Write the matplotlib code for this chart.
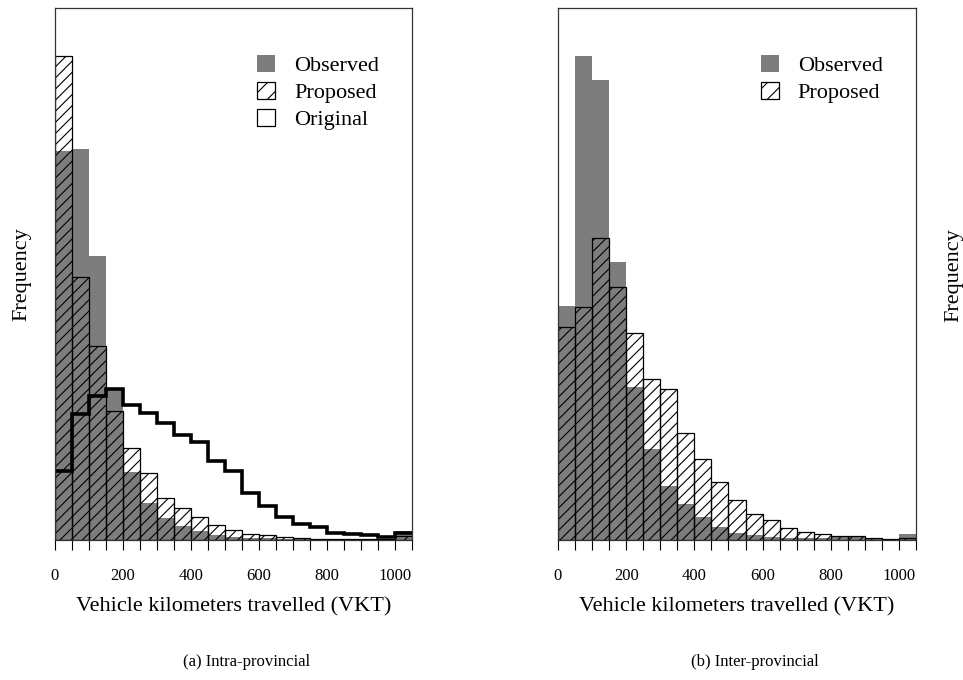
import numpy as np
import matplotlib
matplotlib.use("Agg")
import matplotlib.pyplot as plt
from matplotlib.patches import Patch

plt.rcParams['font.family'] = ['Liberation Serif', 'DejaVu Serif']
plt.rcParams['hatch.linewidth'] = 0.8

# bins of 50 km, 0 .. 1050
edges = np.arange(0, 1051, 50)

# (a) intra-provincial (relative frequency, axis top = 1)
observed_a = [0.731, 0.734, 0.533, 0.283, 0.127, 0.070, 0.042, 0.026, 0.016, 0.010,
              0.006, 0.004, 0.003, 0.002, 0.001, 0.001, 0.001, 0.001, 0.0005, 0.0005, 0.016]
proposed_a = [0.909, 0.495, 0.364, 0.242, 0.173, 0.125, 0.078, 0.061, 0.043, 0.028,
              0.018, 0.011, 0.009, 0.005, 0.003, 0.002, 0.002, 0.001, 0.001, 0.001, 0.008]
original_a = [0.130, 0.237, 0.270, 0.284, 0.253, 0.239, 0.220, 0.198, 0.184, 0.149,
              0.130, 0.089, 0.064, 0.043, 0.030, 0.025, 0.014, 0.011, 0.009, 0.006, 0.013]

# (b) inter-provincial
observed_b = [0.440, 0.909, 0.865, 0.522, 0.288, 0.171, 0.102, 0.067, 0.043, 0.024,
              0.014, 0.010, 0.006, 0.004, 0.003, 0.003, 0.006, 0.005, 0.004, 0.002, 0.012]
proposed_b = [0.401, 0.438, 0.567, 0.476, 0.389, 0.303, 0.283, 0.202, 0.152, 0.109,
              0.075, 0.048, 0.037, 0.023, 0.015, 0.011, 0.007, 0.0075, 0.004, 0.002, 0.004]

tick_labels = ['0', '200', '400', '600', '800', '1000']
GREY = '#7d7d7d'


def draw_panel(ax, observed, proposed, original=None):
    ax.bar(edges[:-1], observed, width=50, align='edge', color=GREY, linewidth=0)
    ax.bar(edges[:-1], proposed, width=50, align='edge', fill=False,
           hatch='///', edgecolor='black', linewidth=0.9)
    handles = [Patch(facecolor=GREY, edgecolor='none', label='Observed'),
               Patch(facecolor='white', edgecolor='black', hatch='//', linewidth=0.9, label='Proposed')]
    if original is not None:
        ax.stairs(original, edges, color='black', linewidth=2.6, baseline=None)
        handles.append(Patch(facecolor='white', edgecolor='black', linewidth=0.9, label='Original'))
    ax.set_xlim(0, 1050)
    ax.set_ylim(0, 1)
    ax.set_yticks([])
    ax.set_xticks(edges)
    ax.set_xticklabels([str(e) if e % 200 == 0 else '' for e in edges])
    ax.tick_params(axis='x', direction='out', length=7, width=0.8, pad=13, labelsize=12)
    ax.set_xlabel('Vehicle kilometers travelled (VKT)', fontsize=16, labelpad=10)
    for s in ax.spines.values():
        s.set_linewidth(0.9)
        s.set_color('#333333')
    ax.legend(handles=handles, loc='upper left', bbox_to_anchor=(0.567, 0.912),
              frameon=False, fontsize=16, handlelength=0.8, handleheight=0.8,
              handletextpad=0.85, labelspacing=0.26, borderpad=0, borderaxespad=0)


fig = plt.figure(figsize=(9.63, 6.8), dpi=100)
ax1 = fig.add_axes([0.0571, 0.2059, 0.3707, 0.7824])
ax2 = fig.add_axes([0.5794, 0.2059, 0.3718, 0.7824])

draw_panel(ax1, observed_a, proposed_a, original_a)
draw_panel(ax2, observed_b, proposed_b)

ax1.set_ylabel('Frequency', fontsize=16, labelpad=17)
fig.text(0.991, 0.596, 'Frequency', fontsize=16, rotation=90, ha='center', va='center')

fig.text(247 / 963, 1 - 662 / 680, '(a) Intra-provincial', fontsize=12, ha='center', va='center')
fig.text(755 / 963, 1 - 662 / 680, '(b) Inter-provincial', fontsize=12, ha='center', va='center')

fig.savefig('out.png', dpi=100)
